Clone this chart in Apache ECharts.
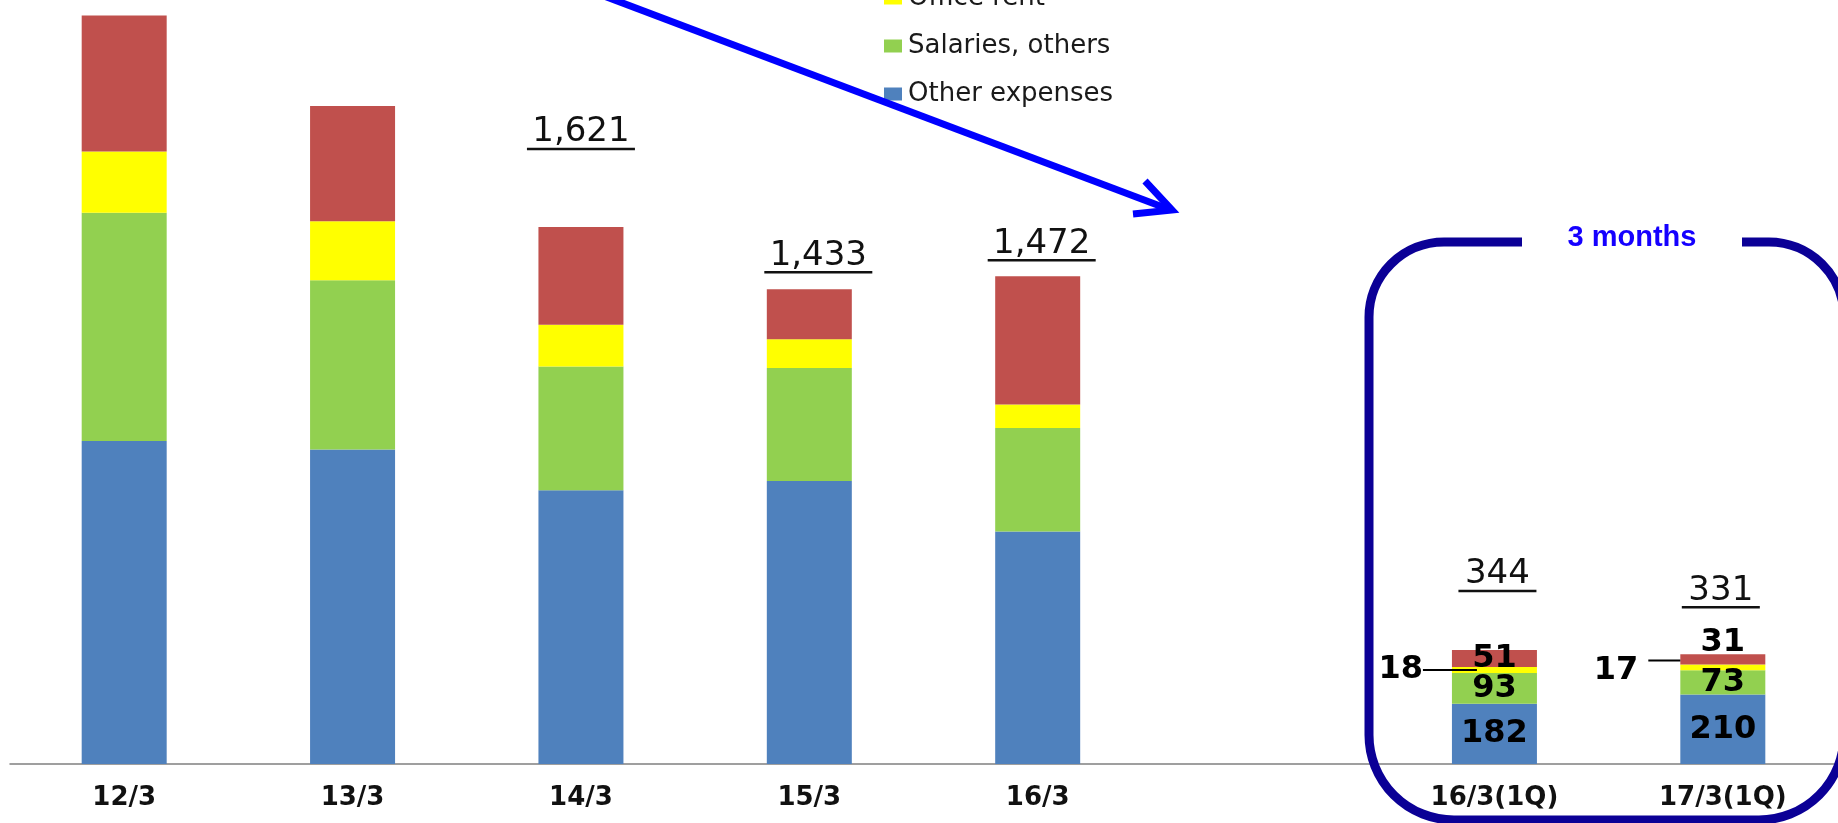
<!DOCTYPE html>
<html>
<head>
<meta charset="utf-8">
<script src="https://cdn.jsdelivr.net/npm/echarts@6/dist/echarts.min.js"></script>
<style>
  html, body { margin: 0; padding: 0; background: #ffffff; }
  #chart { width: 1838px; height: 823px; }
</style>
</head>
<body>
<div id="chart"></div>
<script>
// Fiscal periods; the empty slot separates the full years from the quarters.
const categories = ['12/3', '13/3', '14/3', '15/3', '16/3', '', '16/3(1Q)', '17/3(1Q)'];

// Expense breakdown per period (stacked bottom to top).
const otherExpenses  = [975, 949, 826, 854, 702, null, 182, 210];
const salariesOthers = [689, 511, 374, 341, 312, null, 93, 73];
const officeRent     = [185, 178, 126, 87, 71, null, 18, 17];
const commissions    = [410, 348, 295, 151, 387, null, 51, 31];

// Totals printed above the stacks.
const totals = [null, null, 1621, 1433, 1472, null, 344, 331];

const seriesNames = {
  commissions: 'Commissions paid',
  rent: 'Office rent',
  salaries: 'Salaries, others',
  other: 'Other expenses'
};

const FONT = 'DejaVu Sans';
const COLORS = { other: '#4F81BD', salaries: '#92D050', rent: '#FFFF00', commissions: '#C0504D' };

// Label placement for the totals: [horizontal shift, lift above stack top] in px.
const totalLabelShift = [null, null, [0, 75], [9, 14], [4, 13], null, [3, 56], [-2, 44]];

const segLabel = {
  show: true, position: 'inside', formatter: '{c}',
  fontFamily: FONT, fontWeight: 'bold', fontSize: 32, color: '#000'
};

function withLabels(values, labels) {
  return values.map((v, i) => (labels[i] && v != null) ? { value: v, label: labels[i] } : v);
}

const leaderText = { fontFamily: FONT, fontWeight: 'bold', fontSize: 32, color: '#000' };

const rentLabels = {
  6: {
    show: true, position: 'left', distance: 0, offset: [25, 0],
    formatter: '{n|{c}}{l|}',
    rich: {
      n: Object.assign({}, leaderText, { lineHeight: 30 }),
      l: { width: 54, height: 2, backgroundColor: '#000' }
    }
  },
  7: {
    show: true, position: 'left', distance: 0, offset: [0, 3],
    formatter: '{n|{c}}{g|}{l|}',
    rich: {
      n: Object.assign({}, leaderText, { lineHeight: 22 }),
      g: { width: 10, height: 2 },
      l: { width: 32, height: 2, backgroundColor: '#000', verticalAlign: 'top' }
    }
  }
};

const chart = echarts.init(document.getElementById('chart'), null, { renderer: 'canvas' });

const commonBar = { type: 'bar', barWidth: 85, barGap: '-100%', silent: true };

chart.setOption({
  animation: false,
  backgroundColor: '#ffffff',
  grid: { left: 10, right: 1, top: 2, bottom: 59, containLabel: false },
  legend: {
    orient: 'vertical', left: 884, top: -63, padding: 0,
    itemWidth: 18, itemHeight: 13, itemGap: 22, icon: 'rect',
    selectedMode: false,
    data: [seriesNames.commissions, seriesNames.rent, seriesNames.salaries, seriesNames.other],
    textStyle: { fontFamily: FONT, fontSize: 26, lineHeight: 26, color: '#1a1a1a', padding: [0, 0, 0, 1] }
  },
  xAxis: {
    type: 'category', data: categories,
    axisTick: { show: false },
    axisLine: { lineStyle: { color: '#808080', width: 1.5 } },
    axisLabel: { interval: 0, margin: 21, fontFamily: FONT, fontWeight: 'bold', fontSize: 26, color: '#111' }
  },
  yAxis: { type: 'value', min: 0, max: 2300, show: false, splitLine: { show: false } },
  series: [
    Object.assign({}, commonBar, {
      name: seriesNames.other, stack: 'cost', itemStyle: { color: COLORS.other },
      data: withLabels(otherExpenses, { 6: segLabel, 7: segLabel })
    }),
    Object.assign({}, commonBar, {
      name: seriesNames.salaries, stack: 'cost', itemStyle: { color: COLORS.salaries },
      data: withLabels(salariesOthers, { 6: segLabel, 7: segLabel })
    }),
    Object.assign({}, commonBar, {
      name: seriesNames.rent, stack: 'cost', itemStyle: { color: COLORS.rent },
      data: withLabels(officeRent, rentLabels)
    }),
    Object.assign({}, commonBar, {
      name: seriesNames.commissions, stack: 'cost', itemStyle: { color: COLORS.commissions },
      data: withLabels(commissions, {
        6: segLabel,
        7: Object.assign({}, segLabel, { position: 'top', distance: -4 })
      })
    }),
    Object.assign({}, commonBar, {
      name: 'Total', z: 1,
      itemStyle: { color: 'rgba(0,0,0,0)' },
      data: totals.map((v, i) => v == null ? null : {
        value: v,
        label: { offset: [totalLabelShift[i][0], -totalLabelShift[i][1]] }
      }),
      label: {
        show: true, position: 'top', distance: 0,
        formatter: p => '{v|' + p.value.toLocaleString('en-US') + '}\n{' + (p.value >= 1000 ? 'u5' : 'u3') + '|}',
        rich: {
          v: { fontFamily: FONT, fontSize: 34, lineHeight: 27, color: '#111', align: 'center' },
          u5: { width: 108, height: 2.5, lineHeight: 6, backgroundColor: '#111', align: 'center' },
          u3: { width: 78, height: 2.5, lineHeight: 6, backgroundColor: '#111', align: 'center' }
        }
      }
    })
  ],
  graphic: [
    // Rounded frame around the quarterly bars.
    {
      type: 'rect', silent: true, z: 50,
      shape: { x: 1369, y: 242, width: 475, height: 578, r: [75, 75, 85, 85] },
      style: { fill: 'none', stroke: '#0b0096', lineWidth: 9 }
    },
    {
      type: 'rect', silent: true, z: 51,
      shape: { x: 1522, y: 228, width: 220, height: 28 },
      style: { fill: '#ffffff' }
    },
    {
      type: 'text', silent: true, z: 52, x: 1632, y: 238,
      style: {
        text: '3 months', fill: '#1500ff', fontFamily: 'Liberation Sans', fontWeight: 'bold', fontSize: 29,
        align: 'center', verticalAlign: 'middle'
      }
    },
    // Arrow pointing from the yearly bars to the quarterly panel.
    {
      type: 'polyline', silent: true, z: 60,
      shape: { points: [[604, -4], [1168, 209]] },
      style: { stroke: '#0000ff', lineWidth: 7, fill: null }
    },
    {
      type: 'polyline', silent: true, z: 60,
      shape: { points: [[1145, 181], [1172, 210], [1133, 214]] },
      style: { stroke: '#0000ff', lineWidth: 7, fill: null, lineJoin: 'miter' }
    }
  ]
});
</script>
</body>
</html>
